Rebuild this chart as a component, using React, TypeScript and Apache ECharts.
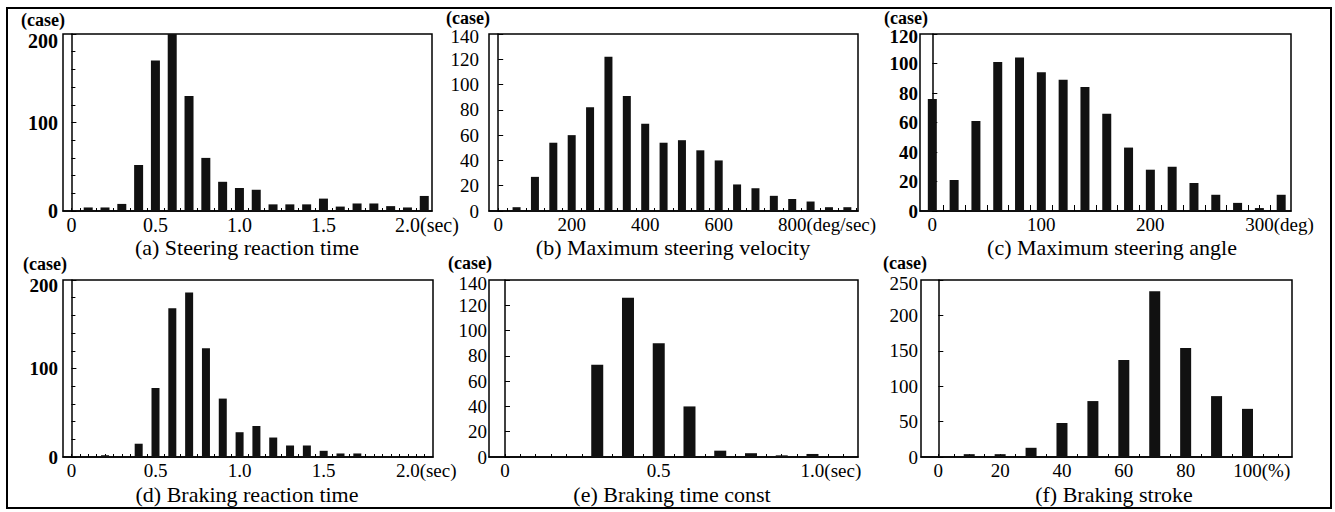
import React, { useEffect, useRef } from 'react';
import * as echarts from 'echarts';

const FONT = 'Liberation Serif';

// (a) Steering reaction time
const aTitle = '(a) Steering reaction time';
const aX = [0.1, 0.2, 0.3, 0.4, 0.5, 0.6, 0.7, 0.8, 0.9, 1.0, 1.1, 1.2, 1.3, 1.4, 1.5, 1.6, 1.7, 1.8, 1.9, 2.0, 2.1];
const aY = [4, 4, 8, 52, 170, 200, 130, 60, 33, 26, 24, 7.5, 7.5, 7.5, 14, 5, 8.5, 8.5, 5.5, 4, 17];
const aTickVals = [0, 0.5, 1.0, 1.5, 2.0];
const aTickLabels = ['0', '0.5', '1.0', '1.5', '2.0'];
const aUnit = '(sec)';
const aYTicks = [0, 100, 200];

// (b) Maximum steering velocity
const bTitle = '(b) Maximum steering velocity';
const bX = [50, 100, 150, 200, 250, 300, 350, 400, 450, 500, 550, 600, 650, 700, 750, 800, 850, 900, 950];
const bY = [3, 27, 54, 60, 82, 122, 91, 69, 54, 56, 48, 40, 21, 18, 12, 9.5, 7.5, 3, 3];
const bTickVals = [0, 200, 400, 600, 800];
const bTickLabels = ['0', '200', '400', '600', '800'];
const bUnit = '(deg/sec)';
const bYTicks = [0, 20, 40, 60, 80, 100, 120, 140];

// (c) Maximum steering angle
const cTitle = '(c) Maximum steering angle';
const cX = [0, 20, 40, 60, 80, 100, 120, 140, 160, 180, 200, 220, 240, 260, 280, 300, 320];
const cY = [76, 21, 61, 101, 104, 94, 89, 84, 66, 43, 28, 30, 19, 11, 5.5, 2, 11];
const cTickVals = [0, 100, 200, 300];
const cTickLabels = ['0', '100', '200', '300'];
const cUnit = '(deg)';
const cYTicks = [0, 20, 40, 60, 80, 100, 120];

// (d) Braking reaction time
const dTitle = '(d) Braking reaction time';
const dX = [0.2, 0.4, 0.5, 0.6, 0.7, 0.8, 0.9, 1.0, 1.1, 1.2, 1.3, 1.4, 1.5, 1.6, 1.7, 1.8, 1.9, 2.0];
const dY = [2, 15, 78, 168, 186, 123, 66, 28, 35, 22, 13, 13, 7, 4, 4, 1, 1, 1];
const dTickVals = [0, 0.5, 1.0, 1.5, 2.0];
const dTickLabels = ['0', '0.5', '1.0', '1.5', '2.0'];
const dUnit = '(sec)';
const dYTicks = [0, 100, 200];

// (e) Braking time const
const eTitle = '(e) Braking time const';
const eX = [0.3, 0.4, 0.5, 0.6, 0.7, 0.8, 0.9, 1.0];
const eY = [73, 126, 90, 40, 5, 3, 1.3, 2.4];
const eTickVals = [0, 0.5, 1.0];
const eTickLabels = ['0', '0.5', '1.0'];
const eUnit = '(sec)';
const eYTicks = [0, 20, 40, 60, 80, 100, 120, 140];

// (f) Braking stroke
const fTitle = '(f) Braking stroke';
const fX = [0, 10, 20, 30, 40, 50, 60, 70, 80, 90, 100];
const fY = [1, 4, 4, 13, 48, 79, 137, 234, 154, 86, 68];
const fTickVals = [0, 20, 40, 60, 80, 100];
const fTickLabels = ['0', '20', '40', '60', '80', '100'];
const fUnit = '(%)';
const fYTicks = [0, 50, 100, 150, 200, 250];

const CASE_LABEL = '(case)';

function steps(from: number, to: number, step: number): number[] {
  const out: number[] = [];
  const n = Math.round((to - from) / step);
  for (let i = 0; i <= n; i++) out.push(+(from + i * step).toFixed(6));
  return out;
}

const X_MARGIN = 4;

const panels = [
  { grid: { left: 63, top: 34, width: 369, height: 177 }, xMin: -0.05, xMax: 2.146, xs: aX, ys: aY, tv: aTickVals, tl: aTickLabels, unit: aUnit, minor: steps(0, 2.1, 0.05), minorLen: 3, yt: aYTicks, yMinor: 5, topPad: 14, bw: 9, bold: true, fs: 20, yMargin: 5, title: aTitle, titleX: 247, titleY: 247, caseX: 65, caseY: 20 },
  { grid: { left: 489, top: 34, width: 369, height: 177 }, xMin: -25, xMax: 979, xs: bX, ys: bY, tv: bTickVals, tl: bTickLabels, unit: bUnit, minor: steps(0, 975, 25), minorLen: 3, yt: bYTicks, yMinor: 0, topPad: 5, bw: 8, bold: false, fs: 19, yMargin: 10, title: bTitle, titleX: 673, titleY: 247, caseX: 490, caseY: 18 },
  { grid: { left: 920, top: 34, width: 371, height: 177 }, xMin: -11.3, xMax: 329, xs: cX, ys: cY, tv: cTickVals, tl: cTickLabels, unit: cUnit, minor: steps(0, 320, 10), minorLen: 6, yt: cYTicks, yMinor: 0, topPad: 5, bw: 9, bold: true, fs: 19, yMargin: 2, title: cTitle, titleX: 1112, titleY: 247, caseX: 928, caseY: 18 },
  { grid: { left: 63, top: 280, width: 370, height: 177 }, xMin: -0.05, xMax: 2.15, xs: dX, ys: dY, tv: dTickVals, tl: dTickLabels, unit: dUnit, minor: steps(0, 2.1, 0.05), minorLen: 3, yt: dYTicks, yMinor: 5, topPad: 10, bw: 8, bold: true, fs: 19, yMargin: 5, title: dTitle, titleX: 247, titleY: 494, caseX: 67, caseY: 264 },
  { grid: { left: 489, top: 280, width: 369, height: 177 }, xMin: -0.052, xMax: 1.148, xs: eX, ys: eY, tv: eTickVals, tl: eTickLabels, unit: eUnit, minor: steps(0, 1.1, 0.05), minorLen: 3, yt: eYTicks, yMinor: 0, topPad: 7, bw: 12, bold: false, fs: 19, yMargin: 2, title: eTitle, titleX: 672, titleY: 494, caseX: 492, caseY: 263 },
  { grid: { left: 921, top: 280, width: 371, height: 177 }, xMin: -5.6, xMax: 114.4, xs: fX, ys: fY, tv: fTickVals, tl: fTickLabels, unit: fUnit, minor: steps(0, 110, 5), minorLen: 3, yt: fYTicks, yMinor: 0, topPad: 7, bw: 11, bold: false, fs: 19, yMargin: 3, title: fTitle, titleX: 1114, titleY: 494, caseX: 927, caseY: 263 },
];

export default function App() {
  const ref = useRef<HTMLDivElement>(null);
  useEffect(() => {
    if (!ref.current) return;
    const chart = echarts.init(ref.current, undefined, { renderer: 'svg' });
    const grids: any[] = [];
    const xAxes: any[] = [];
    const yAxes: any[] = [];
    const series: any[] = [];
    const graphics: any[] = [
      { type: 'rect', shape: { x: 7, y: 8, width: 1324, height: 500 }, style: { fill: 'none', stroke: '#000', lineWidth: 2 }, silent: true },
    ];
    panels.forEach((p, i) => {
      const yMax = p.yt[p.yt.length - 1];
      const fw = p.bold ? 'bold' : 'normal';
      grids.push({ ...p.grid, show: true, borderColor: '#000', borderWidth: 1.5, backgroundColor: 'transparent' });
      xAxes.push({
        type: 'value', gridIndex: i, min: p.xMin, max: p.xMax,
        axisLine: { show: true, onZero: false, lineStyle: { color: '#000', width: 1.5 } },
        axisTick: { show: true, inside: true, length: p.minorLen, customValues: p.minor, lineStyle: { color: '#000', width: 1 } },
        splitLine: { show: false },
        axisLabel: {
          customValues: p.tv,
          hideOverlap: false,
          margin: X_MARGIN,
          color: '#000', fontFamily: FONT, fontSize: p.fs,
          formatter: (v: number) => {
            const k = p.tv.findIndex((t) => Math.abs(t - v) < 1e-6);
            return k < 0 ? '' : p.tl[k];
          },
        },
      });
      yAxes.push({
        type: 'value', gridIndex: i, min: p.yt[0], max: yMax, interval: p.yt[1] - p.yt[0],
        axisLine: { show: true, lineStyle: { color: '#000', width: 1.5 } },
        axisTick: { show: true, inside: true, length: 5, lineStyle: { color: '#000', width: 1 } },
        minorTick: { show: p.yMinor > 0, splitNumber: p.yMinor || 5, length: 4, lineStyle: { color: '#000', width: 1 } },
        splitLine: { show: false },
        axisLabel: {
          margin: p.yMargin, hideOverlap: false, color: '#000', fontFamily: FONT, fontSize: p.fs, fontWeight: fw,
          formatter: (v: number) => (Math.abs(v - yMax) < 1e-6 ? `{t|${v}}` : `${v}`),
          rich: { t: { padding: [p.topPad, 0, 0, 0], color: '#000', fontFamily: FONT, fontSize: p.fs, fontWeight: fw } },
        },
      });
      series.push({
        type: 'bar', xAxisIndex: i, yAxisIndex: i, barWidth: p.bw,
        itemStyle: { color: '#111' },
        data: p.xs.map((x, j) => [x, p.ys[j]]),
      });
      graphics.push({ type: 'text', x: p.titleX, y: p.titleY, style: { text: p.title, fontFamily: FONT, fontSize: 22, fill: '#000', textAlign: 'center', textVerticalAlign: 'middle' }, silent: true });
      graphics.push({ type: 'text', x: p.caseX, y: p.caseY, style: { text: CASE_LABEL, fontFamily: FONT, fontSize: 18, fontWeight: 'bold', fill: '#000', textAlign: 'right', textVerticalAlign: 'middle' }, silent: true });
    });
    chart.setOption({
      animation: false,
      backgroundColor: '#fff',
      grid: grids,
      xAxis: xAxes,
      yAxis: yAxes,
      series,
      graphic: graphics,
    });

    // unit text right after the last x tick label of each panel
    const canvas = document.createElement('canvas');
    const ctx = canvas.getContext('2d');
    const unitGraphics: any[] = [];
    panels.forEach((p, i) => {
      const lastVal = p.tv[p.tv.length - 1];
      const lastLab = p.tl[p.tl.length - 1];
      const px = chart.convertToPixel({ xAxisIndex: i } as any, lastVal) as unknown as number;
      let w = lastLab.length * p.fs * 0.45;
      if (ctx) {
        ctx.font = `${p.fs}px "${FONT}"`;
        w = ctx.measureText(lastLab).width;
      }
      unitGraphics.push({
        type: 'text', x: px + w / 2, y: p.grid.top + p.grid.height + X_MARGIN,
        style: { text: p.unit, fontFamily: FONT, fontSize: p.fs, fill: '#000', textAlign: 'left', textVerticalAlign: 'top' },
        silent: true,
      });
    });
    chart.setOption({ graphic: [...graphics, ...unitGraphics] });
    return () => chart.dispose();
  }, []);
  return <div ref={ref} style={{ position: 'fixed', left: 0, top: 0, width: 1335, height: 512, background: '#fff' }} />;
}
